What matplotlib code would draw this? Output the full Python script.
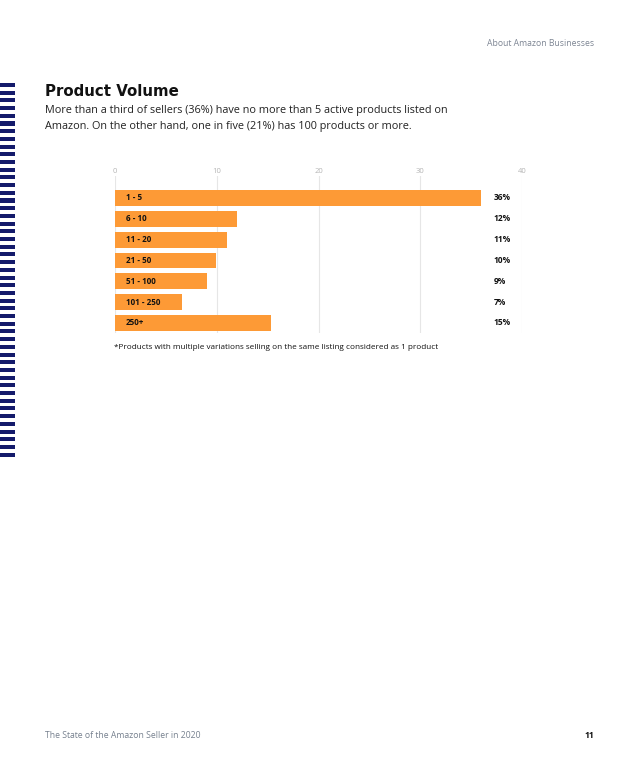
import matplotlib.pyplot as plt
from matplotlib.patches import Rectangle

# Data
categories = ["1 - 5", "6 - 10", "11 - 20", "21 - 50", "51 - 100", "101 - 250", "250+"]
shares = [36.0, 12.0, 11.0, 9.9, 9.0, 6.6, 15.3]
share_labels = ["36%", "12%", "11%", "10%", "9%", "7%", "15%"]
x_ticks = [0, 10, 20, 30, 40]

ORANGE = "#fd9a36"
NAVY = "#141a6b"
W, H = 640, 777

plt.rcParams['font.family'] = ['Open Sans', 'DejaVu Sans']

fig = plt.figure(figsize=(W / 100, H / 100), dpi=100)


def fx(px):
    return px / W


def fy(py):
    return 1 - py / H


# striped decoration on the left margin
for i in range(49):
    top = 83 + i * 7.7
    fig.patches.append(Rectangle((0, fy(top + 4)), fx(14.5), 4 / H,
                                 transform=fig.transFigure, color=NAVY, lw=0))

# header / footer
fig.text(fx(594), fy(43), "About Amazon Businesses", ha="right", va="center",
         fontsize=6.2, color="#7d8593")
fig.text(fx(45), fy(736), "The State of the Amazon Seller in 2020", ha="left", va="center",
         fontsize=6.25, color="#76808e")
fig.text(fx(594), fy(736), "11", ha="right", va="center", fontsize=6.2, color="#111111",
         fontweight="bold")

# title and intro text
fig.text(fx(45), fy(91), "Product Volume", ha="left", va="center", fontsize=10.8,
         fontweight="bold", color="#111111", family=["DejaVu Sans"])
fig.text(fx(45), fy(110), "More than a third of sellers (36%) have no more than 5 active products listed on",
         ha="left", va="center", fontsize=7.8, color="#222222")
fig.text(fx(45), fy(127), "Amazon. On the other hand, one in five (21%) has 100 products or more.",
         ha="left", va="center", fontsize=7.8, color="#222222")

# chart
ax_left, ax_right, ax_top, ax_bottom = 115, 522, 176, 333
ax = fig.add_axes([fx(ax_left), fy(ax_bottom), fx(ax_right - ax_left), (ax_bottom - ax_top) / H])

ypos = list(range(len(categories)))
ax.barh(ypos, shares, height=0.76, color=ORANGE, zorder=2)
ax.set_xlim(0, 40)
ax.set_ylim(6.48, -1.05)

ax.set_xticks(x_ticks)
ax.xaxis.tick_top()
ax.tick_params(axis="x", length=0, pad=1, labelsize=5.5, labelcolor="#b5b5b5")
ax.set_yticks([])
ax.grid(axis="x", color="#e6e6e6", lw=0.8, zorder=0)
for s in ax.spines.values():
    s.set_visible(False)

for y, cat, lab in zip(ypos, categories, share_labels):
    ax.text(1.05, y, cat, ha="left", va="center", fontsize=5.8, fontweight="bold",
            color="#111111", zorder=3)
    ax.text(37.2, y, lab, ha="left", va="center", fontsize=6, fontweight="bold",
            color="#111111", zorder=3)

fig.text(fx(114), fy(347), "*Products with multiple variations selling on the same listing considered as 1 product",
         ha="left", va="center", fontsize=5.9, color="#111111")

fig.savefig("out.png", dpi=100)
